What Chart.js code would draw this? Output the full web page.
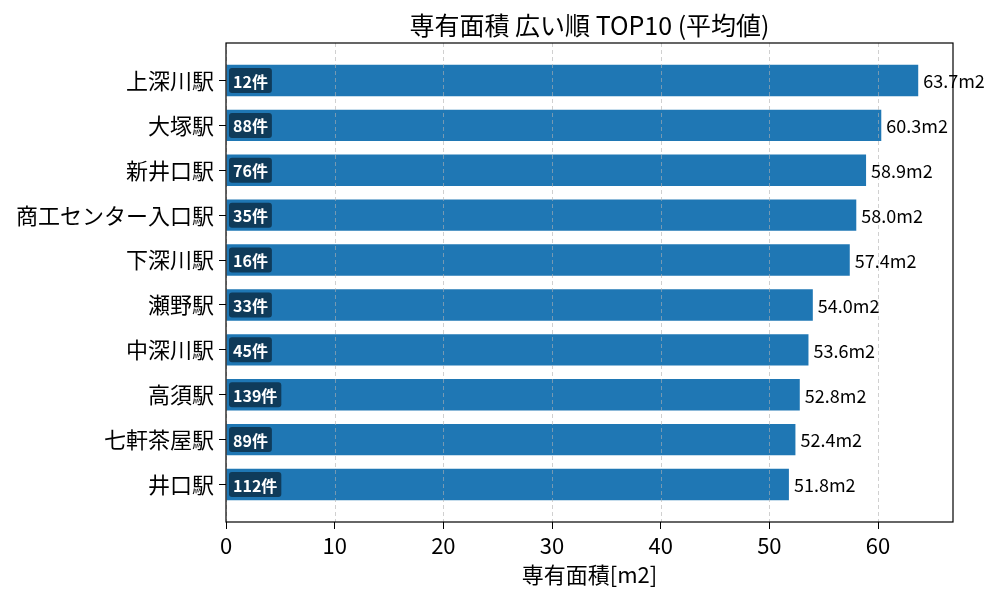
<!DOCTYPE html>
<html>
<head>
<meta charset="utf-8">
<script src="https://cdn.jsdelivr.net/npm/chart.js@4"></script>
<style>
  html, body { margin: 0; padding: 0; background: #fff; }
  #wrap { position: relative; width: 1000px; height: 600px; }
</style>
</head>
<body>
<div id="wrap"><canvas id="c" width="1000" height="600"></canvas></div>
<script>
// data
const stations = ['上深川駅', '大塚駅', '新井口駅', '商工センター入口駅', '下深川駅', '瀬野駅', '中深川駅', '高須駅', '七軒茶屋駅', '井口駅'];
const avgArea = [63.7, 60.3, 58.9, 58.0, 57.4, 54.0, 53.6, 52.8, 52.4, 51.8];
const counts = [12, 88, 76, 35, 16, 33, 45, 139, 89, 112];
const xTicks = [0, 10, 20, 30, 40, 50, 60];

const FONT = "'Noto Sans CJK JP', 'Noto Sans', sans-serif";
const BAR = '#1f77b4';

// frame, dashed grid, title and bar annotations
const decorPlugin = {
  id: 'decor',
  afterDatasetsDraw(chart) {
    const { ctx, chartArea: a, scales: { x, y } } = chart;
    ctx.save();

    // dashed vertical grid
    ctx.strokeStyle = 'rgba(176,176,176,0.6)';
    ctx.lineWidth = 1;
    ctx.setLineDash([4, 3]);
    xTicks.forEach(t => {
      const px = Math.round(x.getPixelForValue(t)) + 0.5;
      ctx.beginPath();
      ctx.moveTo(px, a.top);
      ctx.lineTo(px, a.bottom);
      ctx.stroke();
    });
    ctx.setLineDash([]);

    // labels on the bars
    const meta = chart.getDatasetMeta(0);
    meta.data.forEach((bar, i) => {
      // count badge at the start of the bar
      const txt = counts[i] + '件';
      ctx.font = 'bold 16px ' + FONT;
      const w = ctx.measureText(txt).width;
      const bx = x.getPixelForValue(0) + 3;
      const bh = 25;
      ctx.fillStyle = 'rgba(15,59,90,1)';
      ctx.beginPath();
      ctx.roundRect(bx, bar.y - bh / 2, w + 8, bh, 3);
      ctx.fill();
      ctx.fillStyle = '#fff';
      ctx.textBaseline = 'middle';
      ctx.textAlign = 'left';
      ctx.fillText(txt, bx + 4, bar.y + 1);

      // value after the bar end
      ctx.font = '18px ' + FONT;
      ctx.fillStyle = '#000';
      ctx.fillText(avgArea[i].toFixed(1) + 'm2', bar.x + 5, bar.y + 1);
    });

    // axes frame
    ctx.strokeStyle = '#000';
    ctx.lineWidth = 1.2;
    ctx.strokeRect(a.left, a.top, a.right - a.left, a.bottom - a.top);

    // title
    ctx.font = '25px ' + FONT;
    ctx.fillStyle = '#000';
    ctx.textAlign = 'center';
    ctx.textBaseline = 'middle';
    ctx.fillText('専有面積 広い順 TOP10 (平均値)', (a.left + a.right) / 2, 25);
    ctx.restore();
  }
};

new Chart(document.getElementById('c'), {
  type: 'bar',
  data: {
    datasets: [{
      data: avgArea.map((v, i) => ({ x: v, y: i })),
      backgroundColor: BAR,
      borderWidth: 0,
      categoryPercentage: 1,
      barPercentage: 0.7
    }]
  },
  options: {
    indexAxis: 'y',
    responsive: false,
    animation: false,
    events: [],
    layout: { padding: { top: 43, right: 47, bottom: 0, left: 0 } },
    plugins: { legend: { display: false }, tooltip: { enabled: false }, title: { display: false } },
    scales: {
      x: {
        type: 'linear',
        min: 0,
        max: 66.9,
        afterBuildTicks: s => { s.ticks = xTicks.map(v => ({ value: v })); },
        afterFit: s => { s.height = 78; },
        ticks: { color: '#000', font: { family: FONT, size: 22 }, padding: 3 },
        grid: { drawOnChartArea: false, color: '#000', tickLength: 7, tickColor: '#000' },
        border: { display: false },
        title: {
          display: true,
          text: '専有面積[m2]',
          color: '#000',
          font: { family: FONT, size: 22 },
          padding: { top: 0, bottom: 12 }
        }
      },
      y: {
        type: 'linear',
        reverse: true,
        offset: false,
        min: -0.835,
        max: 9.835,
        afterBuildTicks: s => { s.ticks = stations.map((_, i) => ({ value: i })); },
        afterFit: s => { s.width = 226; },
        ticks: {
          color: '#000',
          font: { family: FONT, size: 22 },
          padding: 5,
          callback: v => stations[v]
        },
        grid: { offset: false, drawOnChartArea: false, color: '#000', tickLength: 7, tickColor: '#000' },
        border: { display: false }
      }
    }
  },
  plugins: [decorPlugin]
});
</script>
</body>
</html>
